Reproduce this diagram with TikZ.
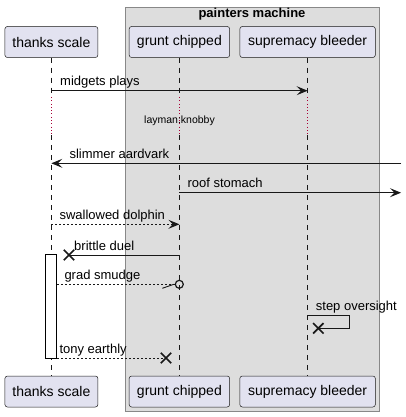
\documentclass[tikz,border=0pt]{standalone}
\usepackage{fontspec}
\setmainfont{Liberation Sans}
\usetikzlibrary{arrows.meta,positioning,calc}
\definecolor{partfill}{HTML}{E2E2F0}
\definecolor{linecol}{HTML}{181818}
\definecolor{groupfill}{HTML}{DDDDDD}
\definecolor{groupline}{HTML}{888888}
\definecolor{delaycol}{HTML}{A80036}
\tikzset{
    participant/.style={draw=linecol,fill=partfill,line width=0.5pt,rounded corners=2.5pt,minimum height=31pt,inner sep=0pt,font=\fontsize{14}{16}\selectfont},
    lifeline/.style={linecol,line width=0.5pt,dash pattern=on 5pt off 5pt},
    delayline/.style={delaycol,line width=0.9pt,dash pattern=on 0.9pt off 2.4pt},
    msg/.style={linecol,line width=0.9pt},
    reply/.style={msg,dash pattern=on 2pt off 2pt},
    arr/.style={-{Stealth[length=11pt,width=9pt,inset=4.5pt]}},
    msglabel/.style={anchor=base west,inner sep=0pt,font=\fontsize{13}{15}\selectfont},
    activation/.style={draw=black,fill=white,line width=0.9pt,minimum width=11pt,inner sep=0pt},
    destroy/.style={linecol,line width=1.7pt},
    destroyed/.pic={\draw[destroy] (-5.2,-5.2) -- (5.2,5.2) (-5.2,5.2) -- (5.2,-5.2);},
}

\begin{document}
\begin{tikzpicture}[x=1pt,y=-1pt]
    \useasboundingbox (0,0) rectangle (406,417);
    \draw[groupline,fill=groupfill,line width=0.8pt] (125,7) rectangle (379,411.5);
    \node[font=\bfseries\fontsize{13}{15}\selectfont] (GroupTitle) at (252,14) {painters machine};

    \node[participant,minimum width=93pt] (ScaleTop) at (51.4,42) {thanks scale};
    \node[participant,minimum width=100.5pt] (GruntTop) at (179.4,42) {grunt chipped};
    \node[participant,minimum width=135.5pt] (BleederTop) at (307.6,42) {supremacy bleeder};
    \node[participant,minimum width=93pt] (ScaleBot) at (51.4,391.5) {thanks scale};
    \node[participant,minimum width=100.5pt] (GruntBot) at (179.4,391.5) {grunt chipped};
    \node[participant,minimum width=135.5pt] (BleederBot) at (307.6,391.5) {supremacy bleeder};

    \coordinate (DelayStart) at (0,97);
    \coordinate (DelayEnd) at (0,135);
    \foreach \p in {Scale,Grunt,Bleeder}{
        \draw[lifeline] (\p Top.south) -- (\p Top.south |- DelayStart);
        \draw[delayline] (\p Top.south |- DelayStart) -- (\p Top.south |- DelayEnd);
        \draw[lifeline] (\p Top.south |- DelayEnd) -- (\p Bot.north);
    }
    \node[font=\fontsize{10.5}{12}\selectfont,inner sep=0pt] (Delay) at (179.5,121) {layman:knobby};

    \coordinate (RowMidgets) at (0,90.7);
    \coordinate (RowSlimmer) at (0,163.3);
    \coordinate (RowRoof) at (0,192.7);
    \coordinate (RowDolphin) at (0,224.3);
    \coordinate (RowDuel) at (0,255);
    \coordinate (RowSmudge) at (0,284.3);
    \coordinate (RowStep) at (0,315);
    \coordinate (RowStepBack) at (0,328.3);
    \coordinate (RowTony) at (0,358);

    \node[activation,minimum height=104pt] (Act) at (ScaleTop |- 0,306) {};

    \draw[msg,arr] (ScaleTop |- RowMidgets) -- (BleederTop |- RowMidgets);
    \node[msglabel] (MidgetsLbl) at (60,85.2) {midgets plays};

    \coordinate (SlimmerStart) at (401,163.3);
    \draw[msg,arr] (SlimmerStart) -- (ScaleTop |- RowSlimmer);
    \node[msglabel] (SlimmerLbl) at (69.3,158.3) {slimmer aardvark};

    \coordinate (RoofEnd) at (401,192.7);
    \draw[msg,arr] (GruntTop |- RowRoof) -- (RoofEnd);
    \node[msglabel] (RoofLbl) at (187.3,187.7) {roof stomach};

    \draw[reply,arr] (ScaleTop |- RowDolphin) -- (GruntTop |- RowDolphin);
    \node[msglabel] (DolphinLbl) at (59.3,219.3) {swallowed dolphin};

    \coordinate (DuelEnd) at (69,255);
    \draw[msg] (GruntTop |- RowDuel) -- (DuelEnd);
    \pic at (DuelEnd) {destroyed};
    \node[msglabel] (DuelLbl) at (74,250) {brittle duel};

    \coordinate (SmudgeEnd) at (179.3,284.3);
    \draw[reply] (Act.east |- RowSmudge) -- ($(SmudgeEnd)+(-4,0)$);
    \draw[msg] ($(SmudgeEnd)+(-5.5,0)$) -- ($(SmudgeEnd)+(-17,4)$);
    \draw[msg,line width=1.2pt] (SmudgeEnd) circle (4);
    \node[msglabel] (SmudgeLbl) at (64.3,279.3) {grad smudge};

    \coordinate (StepEnd) at (318.3,328.3);
    \draw[msg] (BleederTop |- RowStep) -- (349,315) -- (349,328.3) -- (StepEnd);
    \pic at (StepEnd) {destroyed};
    \node[msglabel] (StepLbl) at (315.7,310) {step oversight};

    \coordinate (TonyEnd) at (166,358);
    \draw[reply] (Act.east |- RowTony) -- (TonyEnd);
    \pic at (TonyEnd) {destroyed};
    \node[msglabel] (TonyLbl) at (59.3,353) {tony earthly};
\end{tikzpicture}
\end{document}
